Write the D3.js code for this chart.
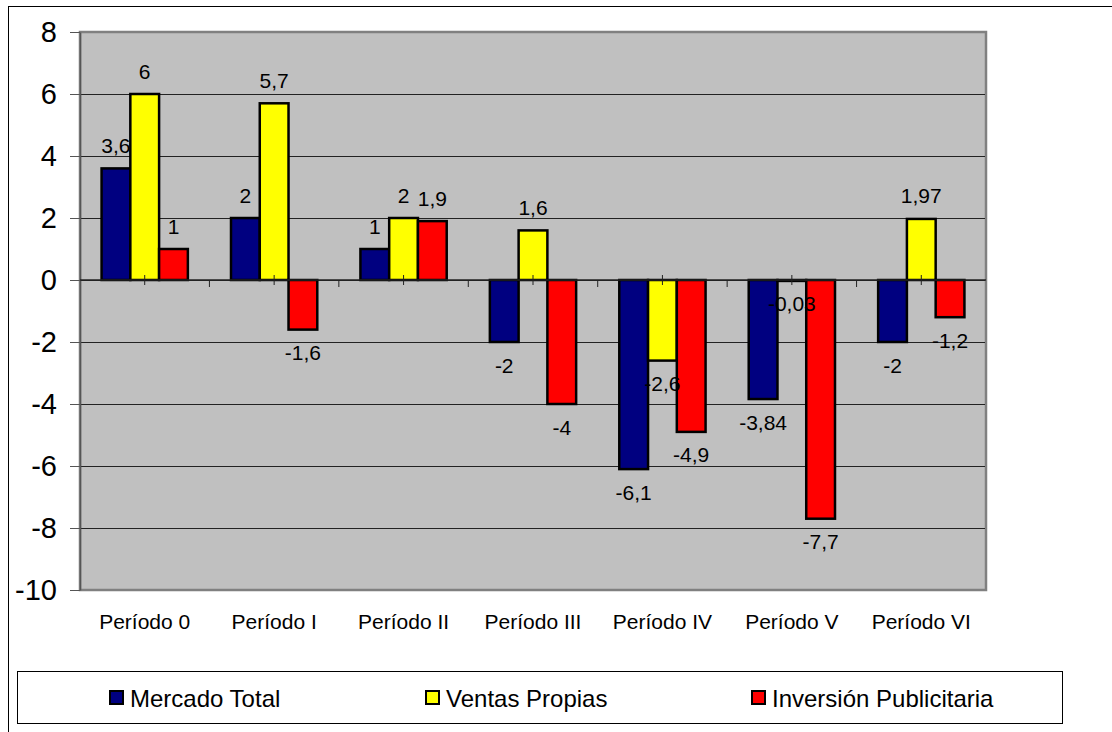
<!DOCTYPE html>
<html><head><meta charset="utf-8">
<script src="https://cdn.jsdelivr.net/npm/d3@7"></script>
<style>html,body{margin:0;padding:0;background:#fff;} svg{display:block;font-family:Arial,"Liberation Sans",sans-serif;}</style>
</head><body>
<svg id="c" width="1112" height="732"></svg>
<script>
const categories = ["Período 0","Período I","Período II","Período III","Período IV","Período V","Período VI"];
const seriesNames = ["Mercado Total","Ventas Propias","Inversión Publicitaria"];
const mercadoTotal = [3.6, 2, 1, -2, -6.1, -3.84, -2];
const ventasPropias = [6, 5.7, 2, 1.6, -2.6, -0.03, 1.97];
const inversionPublicitaria = [1, -1.6, 1.9, -4, -4.9, -7.7, -1.2];
const yTicks = [-10,-8,-6,-4,-2,0,2,4,6,8];
const colors = ["#000080","#FFFF00","#FF0000"];

const seriesValues = [mercadoTotal, ventasPropias, inversionPublicitaria];
const svg = d3.select("#c");
const L = 80, R = 986, T = 32, B = 590;

// outer chart border
svg.append("rect").attr("x",8.5).attr("y",6.5).attr("width",1200).attr("height",800)
  .attr("fill","#fff").attr("stroke","#000").attr("stroke-width",1);

const y = d3.scaleLinear().domain([-10,8]).range([B,T]);
const x0 = d3.scaleBand().domain(categories).range([L,R]).padding(0);
const x1 = d3.scaleBand().domain(seriesNames).range([0,x0.bandwidth()]).paddingInner(0).paddingOuter(0.75);

// plot area
svg.append("rect").attr("x",L).attr("y",T).attr("width",R-L).attr("height",B-T)
  .attr("fill","#C0C0C0").attr("stroke","#808080").attr("stroke-width",2.5);

// gridlines
svg.append("g").selectAll("line").data(yTicks.filter(v=>v>-10 && v<8)).join("line")
  .attr("x1",L).attr("x2",R-1).attr("y1",d=>Math.round(y(d))+0.5).attr("y2",d=>Math.round(y(d))+0.5)
  .attr("stroke","#222").attr("stroke-width",1);

// y axis
const yAxis = d3.axisLeft(y).tickValues(yTicks).tickSize(10).tickSizeOuter(0).tickPadding(13)
  .tickFormat(d=>String(d));
const ga = svg.append("g").attr("transform",`translate(${L},0)`).call(yAxis);
ga.select(".domain").attr("stroke","#555").attr("stroke-width",1.5);
ga.selectAll(".tick line").attr("stroke","#555");
ga.selectAll(".tick text").attr("font-size",29).attr("fill","#000").attr("font-family","Arial, 'Liberation Sans', sans-serif");

// bars
const groups = svg.append("g").selectAll("g").data(categories).join("g")
  .attr("transform",d=>`translate(${x0(d)},0)`);
groups.selectAll("rect").data((c,i)=>seriesNames.map((s,j)=>({s,j,v:seriesValues[j][i]}))).join("rect")
  .attr("x",d=>x1(d.s)).attr("width",x1.bandwidth())
  .attr("y",d=>y(Math.max(0,d.v))).attr("height",d=>Math.abs(y(d.v)-y(0)))
  .attr("fill",d=>colors[d.j]).attr("stroke","#000").attr("stroke-width",2.5);

// category axis (zero line) with ticks
const xAxisG = svg.append("g");
xAxisG.append("line").attr("x1",L).attr("x2",R).attr("y1",y(0)).attr("y2",y(0)).attr("stroke","#222").attr("stroke-width",1.5);
xAxisG.selectAll("line.maj").data(categories.slice(1)).join("line").attr("class","maj")
  .attr("x1",d=>x0(d)).attr("x2",d=>x0(d)).attr("y1",y(0)).attr("y2",y(0)+7).attr("stroke","#222");
xAxisG.selectAll("line.min").data(categories).join("line").attr("class","min")
  .attr("x1",d=>x0(d)+x0.bandwidth()/2).attr("x2",d=>x0(d)+x0.bandwidth()/2).attr("y1",y(0)-5).attr("y2",y(0)+5).attr("stroke","#222");

// data labels
const fmt = v => String(v).replace(".",",");
groups.selectAll("text").data((c,i)=>seriesNames.map((s,j)=>({s,j,v:seriesValues[j][i]}))).join("text")
  .attr("x",d=>x1(d.s)+x1.bandwidth()/2)
  .attr("y",d=> d.v>=0 ? y(d.v)-23 : y(d.v)+23)
  .attr("dy","0.36em").attr("text-anchor","middle").attr("font-size",21).attr("fill","#000")
  .text(d=>fmt(d.v));

// category labels
svg.append("g").selectAll("text").data(categories).join("text")
  .attr("x",d=>x0(d)+x0.bandwidth()/2).attr("y",629).attr("text-anchor","middle")
  .attr("font-size",21).attr("fill","#000").text(d=>d);

// legend
const lg = svg.append("g");
lg.append("rect").attr("x",17.5).attr("y",671.5).attr("width",1045).attr("height",52)
  .attr("fill","#fff").attr("stroke","#000").attr("stroke-width",1);
const legX = [109, 425, 751];
const li = lg.selectAll("g").data(seriesNames).join("g").attr("transform",(d,i)=>`translate(${legX[i]},690)`);
li.append("rect").attr("x",1).attr("y",1).attr("width",13).attr("height",13)
  .attr("fill",(d,i)=>colors[i]).attr("stroke","#000").attr("stroke-width",2);
li.append("text").attr("x",21).attr("y",16.5).attr("font-size",24).attr("fill","#000").text(d=>d);
</script>
</body></html>
